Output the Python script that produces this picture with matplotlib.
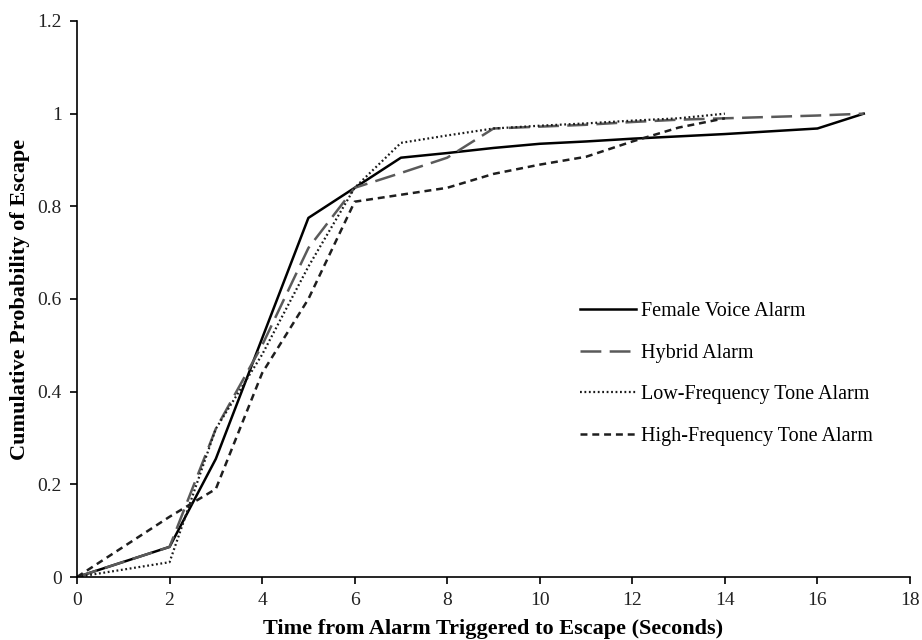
import matplotlib
matplotlib.use("Agg")
import matplotlib.pyplot as plt
from matplotlib.ticker import FormatStrFormatter, MultipleLocator

plt.rcParams['font.family'] = ['Liberation Serif', 'DejaVu Serif']
plt.rcParams['lines.scale_dashes'] = False

# 数据
t_female = [0, 2, 3, 4, 5, 6, 7, 8, 9, 10, 11, 12, 13, 14, 15, 16, 17]
p_female = [0, 0.065, 0.255, 0.515, 0.775, 0.84, 0.905, 0.915, 0.926, 0.935,
            0.94, 0.946, 0.951, 0.956, 0.962, 0.968, 1.0]

t_hybrid = [0, 2, 3, 4, 5, 6, 7, 8, 9, 10, 11, 12, 13, 14, 15, 16, 17]
p_hybrid = [0, 0.065, 0.32, 0.50, 0.71, 0.84, 0.872, 0.905, 0.968, 0.972,
            0.976, 0.982, 0.987, 0.99, 0.993, 0.996, 1.0]

t_low = [0, 2, 3, 4, 5, 6, 7, 8, 9, 10, 11, 12, 13, 14]
p_low = [0, 0.032, 0.32, 0.48, 0.67, 0.84, 0.937, 0.953, 0.968, 0.974,
         0.979, 0.985, 0.99, 1.0]

t_high = [0, 2, 3, 4, 5, 6, 7, 8, 9, 10, 11, 12, 13, 14]
p_high = [0, 0.13, 0.19, 0.44, 0.60, 0.81, 0.825, 0.84, 0.87, 0.89,
          0.907, 0.94, 0.97, 0.99]

labels = ["Female Voice Alarm", "Hybrid Alarm",
          "Low-Frequency Tone Alarm", "High-Frequency Tone Alarm"]

fig = plt.figure(figsize=(9.22, 6.4), dpi=100)
ax = fig.add_axes([77 / 922, 63 / 640, 833 / 922, 556 / 640])

ax.plot(t_female, p_female, color="#000000", lw=1.8, ls="-", label=labels[0])
ax.plot(t_hybrid, p_hybrid, color="#5a5a5a", lw=1.8, ls=(0, (15, 6)), label=labels[1])
ax.plot(t_low, p_low, color="#1a1a1a", lw=1.6, ls=(0, (1.3, 1.9)), label=labels[2])
ax.plot(t_high, p_high, color="#1e1e1e", lw=1.8, ls=(0, (5, 3.5)), label=labels[3])

ax.set_xlim(0, 18)
ax.set_ylim(0, 1.2)
ax.xaxis.set_major_locator(MultipleLocator(2))
ax.yaxis.set_major_locator(MultipleLocator(0.2))
ax.yaxis.set_major_formatter(FormatStrFormatter('%g'))

for s in ["top", "right"]:
    ax.spines[s].set_visible(False)
for s in ["left", "bottom"]:
    ax.spines[s].set_linewidth(1.2)
    ax.spines[s].set_color("#000000")
ax.tick_params(direction="out", length=5, width=1.2, labelsize=14, pad=6,
               colors="#000000", labelcolor="#222222")

ax.set_xlabel("Time from Alarm Triggered to Escape (Seconds)",
              fontsize=16, fontweight="bold", labelpad=7)
ax.set_ylabel("Cumulative Probability of Escape",
              fontsize=16, fontweight="bold", labelpad=5)

ax.legend(loc="upper left", bbox_to_anchor=(580 / 922, 1 - 302 / 640),
          bbox_transform=fig.transFigure, frameon=False, fontsize=14.5,
          handlelength=2.8, handletextpad=0.25, labelspacing=1.12,
          borderpad=0, borderaxespad=0)

fig.savefig("out.png", dpi=100)
